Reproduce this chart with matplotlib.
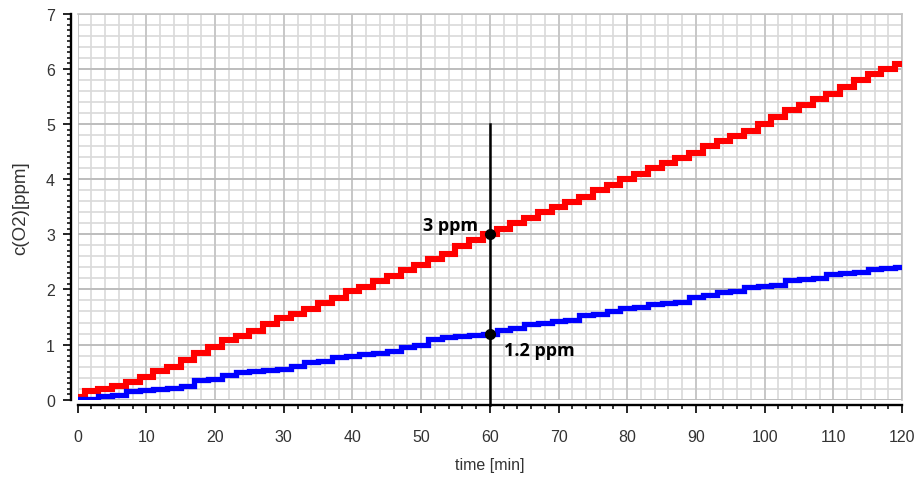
import matplotlib
matplotlib.use("Agg")
import matplotlib.pyplot as plt
import numpy as np
from matplotlib.ticker import MultipleLocator

# ---- data -------------------------------------------------------------
time_min = list(range(0, 121, 2))
red_ppm = [0.05, 0.15, 0.20, 0.25, 0.32, 0.42, 0.52, 0.60, 0.72, 0.85,
           0.95, 1.08, 1.15, 1.25, 1.38, 1.48, 1.55, 1.65, 1.75, 1.85,
           1.97, 2.05, 2.15, 2.25, 2.35, 2.45, 2.55, 2.65, 2.78, 2.90,
           3.00, 3.10, 3.20, 3.30, 3.40, 3.50, 3.58, 3.68, 3.80, 3.90,
           4.00, 4.10, 4.20, 4.30, 4.38, 4.48, 4.60, 4.70, 4.78, 4.88,
           5.00, 5.12, 5.25, 5.35, 5.45, 5.55, 5.68, 5.80, 5.90, 6.00,
           6.08]
blue_ppm = [0.01, 0.02, 0.07, 0.08, 0.15, 0.17, 0.19, 0.22, 0.25, 0.36,
            0.37, 0.45, 0.50, 0.52, 0.53, 0.55, 0.62, 0.68, 0.70, 0.78,
            0.80, 0.83, 0.85, 0.88, 0.95, 1.00, 1.10, 1.13, 1.15, 1.17,
            1.20, 1.26, 1.30, 1.38, 1.40, 1.42, 1.45, 1.53, 1.55, 1.60,
            1.66, 1.68, 1.73, 1.75, 1.78, 1.86, 1.90, 1.96, 1.98, 2.04,
            2.06, 2.08, 2.17, 2.19, 2.20, 2.28, 2.30, 2.32, 2.37, 2.38,
            2.40]
marker_time = 60
marker_values = [3.0, 1.2]
marker_labels = ["3 ppm", "1.2 ppm"]
marker_line_top = 5
x_ticks = list(range(0, 121, 10))
y_ticks = list(range(0, 8))

# ---- figure -----------------------------------------------------------
plt.rcParams['font.family'] = ['Liberation Sans', 'DejaVu Sans']
fig = plt.figure(figsize=(9.15, 4.81), dpi=100)
ax = fig.add_axes([0.0849, 0.1669, 0.9009, 0.8025])

ax.set_xlim(0, 120)
ax.set_ylim(0, 7)
ax.set_xticks(x_ticks)
ax.set_yticks(y_ticks)
ax.xaxis.set_minor_locator(MultipleLocator(2))
ax.yaxis.set_minor_locator(MultipleLocator(0.1))

# grid
for xv in np.arange(0, 121, 2):
    ax.axvline(xv, color='#d9d9d9', linewidth=1.2, zorder=0)
for yv in np.arange(0, 7.01, 0.2):
    ax.axhline(yv, color='#d9d9d9', linewidth=1.2, zorder=0)
for xv in x_ticks:
    ax.axvline(xv, color='#c4c4c4', linewidth=1.2, zorder=0)
for yv in y_ticks:
    ax.axhline(yv, color='#b8b8b8', linewidth=1.2, zorder=0)
ax.set_axisbelow(True)

# frame / spines
for s in ['top', 'right']:
    ax.spines[s].set_color('#c4c4c4')
    ax.spines[s].set_linewidth(1.2)
ax.spines['left'].set_position(('outward', 4.8))
ax.spines['bottom'].set_position(('outward', 3.8))
ax.spines['left'].set_bounds(0, 7)
ax.spines['bottom'].set_bounds(0, 120)
for s in ['left', 'bottom']:
    ax.spines[s].set_linewidth(1.7)
    ax.spines[s].set_color('black')

ax.tick_params(axis='x', which='major', direction='out', length=5.5, width=1.2,
               pad=12, labelsize=11.5, labelcolor='#333333')
ax.tick_params(axis='x', which='minor', direction='out', length=3.2, width=1.1)
ax.tick_params(axis='y', which='major', direction='out', length=5.5, width=1.2,
               pad=6, labelsize=11.5, labelcolor='#333333')
ax.tick_params(axis='y', which='minor', direction='out', length=3.0, width=1.1)

# series
ax.plot(time_min, red_ppm, color='#ff0000', linewidth=4.4,
        drawstyle='steps-mid', solid_joinstyle='miter', zorder=3)
ax.plot(time_min, blue_ppm, color='#0000ff', linewidth=3.8,
        drawstyle='steps-mid', solid_joinstyle='miter', zorder=3)

# marker line and points
ax.plot([marker_time, marker_time], [-0.1, marker_line_top], color='black',
        linewidth=1.8, clip_on=False, zorder=4)
ax.plot([marker_time] * len(marker_values), marker_values, 'o', color='black',
        markersize=7, zorder=5)
ax.text(marker_time - 1.7, marker_values[0] + 0.07, marker_labels[0],
        ha='right', va='baseline', fontsize=13, fontweight='bold',
        family=['Open Sans', 'DejaVu Sans'], zorder=6)
ax.text(marker_time + 2.0, marker_values[1] - 0.39, marker_labels[1],
        ha='left', va='baseline', fontsize=13, fontweight='bold',
        family=['Open Sans', 'DejaVu Sans'], zorder=6)

ax.set_xlabel('time [min]', fontsize=11.5, color='#333333', labelpad=9)
ax.set_ylabel('c(O2)[ppm]', fontsize=13.5, color='#333333', labelpad=12)

fig.savefig('out.png', dpi=100)
